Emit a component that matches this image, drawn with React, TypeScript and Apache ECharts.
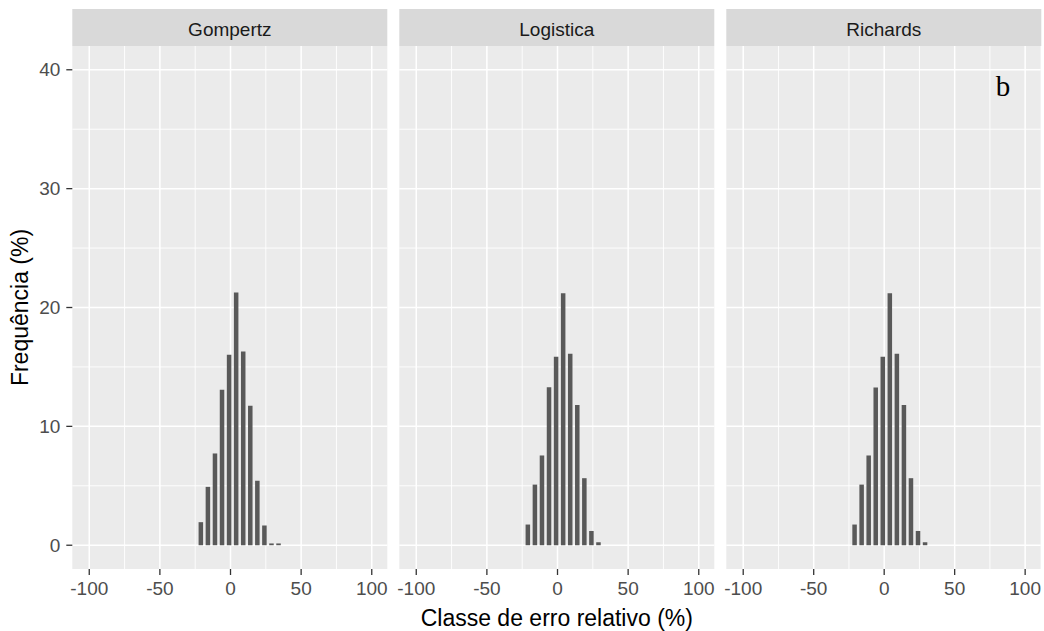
import React, { useEffect, useRef } from "react";
import * as echarts from "echarts";

const panels = ["Gompertz", "Logistica", "Richards"];
const binCenters = [-21, -16, -11, -6, -1, 4, 9, 14, 19, 24, 29, 34];
const gompertz = [1.94, 4.91, 7.72, 13.07, 16.02, 21.26, 16.3, 11.73, 5.42, 1.66, 0.15, 0.15];
const logistica = [1.74, 5.1, 7.55, 13.3, 15.85, 21.2, 16.1, 11.8, 5.64, 1.2, 0.25];
const richards = [1.74, 5.1, 7.55, 13.27, 15.85, 21.2, 16.1, 11.8, 5.64, 1.2, 0.25];
const seriesValues = [gompertz, logistica, richards];
const xTicks = [-100, -50, 0, 50, 100];
const xMinor = [-75, -25, 25, 75];
const yTicks = [0, 10, 20, 30, 40];
const yMinor = [5, 15, 25, 35];
const xTitle = "Classe de erro relativo (%)";
const yTitle = "Frequência (%)";
const panelLetter = "b";

const X_MIN = -112;
const X_MAX = 111;
const Y_MIN = -2;
const Y_MAX = 42;
const BAR_HALF = 1.6;

const LEFT0 = 72.3;
const PANEL_W = 315;
const GAP = 12;
const TOP = 46;
const PANEL_H = 523;
const TICK_LEN = 6;
const FONT = "'Liberation Sans', Arial, sans-serif";

export default function App() {
  const ref = useRef<HTMLDivElement>(null);
  useEffect(() => {
    if (!ref.current) return;
    const chart = echarts.init(ref.current, null, { renderer: "svg" });

    const grids: any[] = [];
    const xAxes: any[] = [];
    const yAxes: any[] = [];
    const series: any[] = [];
    const graphics: any[] = [];

    const gridData: number[][] = [];
    xTicks.forEach((v) => gridData.push([0, v, 1]));
    xMinor.forEach((v) => gridData.push([0, v, 0]));
    yTicks.forEach((v) => gridData.push([1, v, 1]));
    yMinor.forEach((v) => gridData.push([1, v, 0]));

    panels.forEach((name, i) => {
      const left = LEFT0 + i * (PANEL_W + GAP);
      grids.push({
        left,
        top: TOP,
        width: PANEL_W,
        height: PANEL_H,
        show: true,
        backgroundColor: "#ebebeb",
        borderWidth: 0,
      });
      xAxes.push({
        type: "value",
        gridIndex: i,
        min: X_MIN,
        max: X_MAX,
        position: "bottom",
        axisLine: { show: false, onZero: false },
        splitLine: { show: false },
        axisTick: { show: false },
        axisLabel: {
          show: true,
          customValues: xTicks,
          color: "#4d4d4d",
          fontSize: 19,
          fontFamily: FONT,
          margin: 10,
        },
      });
      yAxes.push({
        type: "value",
        gridIndex: i,
        min: Y_MIN,
        max: Y_MAX,
        position: "left",
        axisLine: { show: false, onZero: false },
        splitLine: { show: false },
        axisTick: { show: false },
        axisLabel: {
          show: i === 0,
          customValues: yTicks,
          color: "#4d4d4d",
          fontSize: 19,
          fontFamily: FONT,
          margin: 12,
        },
      });
      const showYTicks = i === 0;
      series.push({
        type: "custom",
        xAxisIndex: i,
        yAxisIndex: i,
        z: 1,
        silent: true,
        clip: false,
        data: gridData,
        renderItem: (params: any, api: any) => {
          const cs = params.coordSys;
          const orient = api.value(0);
          const v = api.value(1);
          const major = api.value(2) === 1;
          const style = { stroke: "#ffffff", lineWidth: major ? 1.5 : 0.9 };
          const tickStyle = { stroke: "#333333", lineWidth: 1.3 };
          const children: any[] = [];
          if (orient === 0) {
            const p = api.coord([v, 0]);
            children.push({
              type: "line",
              shape: { x1: p[0], y1: cs.y, x2: p[0], y2: cs.y + cs.height },
              style,
            });
            if (major) {
              children.push({
                type: "line",
                shape: {
                  x1: p[0],
                  y1: cs.y + cs.height,
                  x2: p[0],
                  y2: cs.y + cs.height + TICK_LEN,
                },
                style: tickStyle,
              });
            }
          } else {
            const p = api.coord([0, v]);
            children.push({
              type: "line",
              shape: { x1: cs.x, y1: p[1], x2: cs.x + cs.width, y2: p[1] },
              style,
            });
            if (major && showYTicks) {
              children.push({
                type: "line",
                shape: { x1: cs.x - TICK_LEN, y1: p[1], x2: cs.x, y2: p[1] },
                style: tickStyle,
              });
            }
          }
          return { type: "group", children };
        },
      });
      const vals = seriesValues[i];
      series.push({
        type: "custom",
        name,
        xAxisIndex: i,
        yAxisIndex: i,
        z: 3,
        data: vals.map((v, k) => [binCenters[k], v]),
        renderItem: (_params: any, api: any) => {
          const c = api.value(0);
          const v = api.value(1);
          const p0 = api.coord([c - BAR_HALF, v]);
          const p1 = api.coord([c + BAR_HALF, 0]);
          return {
            type: "rect",
            shape: { x: p0[0], y: p0[1], width: p1[0] - p0[0], height: p1[1] - p0[1] },
            style: { fill: "#595959" },
          };
        },
      });
      graphics.push({
        type: "rect",
        left: left,
        top: 9,
        shape: { width: PANEL_W, height: TOP - 9 },
        style: { fill: "#d9d9d9" },
        z: 0,
      });
      graphics.push({
        type: "text",
        x: left + PANEL_W / 2,
        y: 29,
        style: {
          text: name,
          fill: "#1a1a1a",
          fontSize: 19,
          fontFamily: FONT,
          align: "center",
          verticalAlign: "middle",
        },
        z: 1,
      });
    });

    const totalRight = LEFT0 + 3 * PANEL_W + 2 * GAP;
    graphics.push({
      type: "text",
      x: (LEFT0 + totalRight) / 2,
      y: 618,
      style: {
        text: xTitle,
        fill: "#000000",
        fontSize: 23,
        fontFamily: FONT,
        align: "center",
        verticalAlign: "middle",
      },
    });
    graphics.push({
      type: "text",
      x: 20,
      y: TOP + PANEL_H / 2,
      rotation: Math.PI / 2,
      style: {
        text: yTitle,
        fill: "#000000",
        fontSize: 23,
        fontFamily: FONT,
        align: "center",
        verticalAlign: "middle",
      },
    });
    graphics.push({
      type: "text",
      x: 1003,
      y: 86,
      style: {
        text: panelLetter,
        fill: "#000000",
        fontSize: 29,
        fontFamily: "'Liberation Serif', 'Times New Roman', serif",
        align: "center",
        verticalAlign: "middle",
      },
      z: 10,
    });

    chart.setOption({
      animation: false,
      backgroundColor: "#ffffff",
      grid: grids,
      xAxis: xAxes,
      yAxis: yAxes,
      series,
      graphic: graphics,
    });
    return () => chart.dispose();
  }, []);
  return (
    <div
      ref={ref}
      style={{ position: "fixed", left: 0, top: 0, width: 1044, height: 631 }}
    />
  );
}
